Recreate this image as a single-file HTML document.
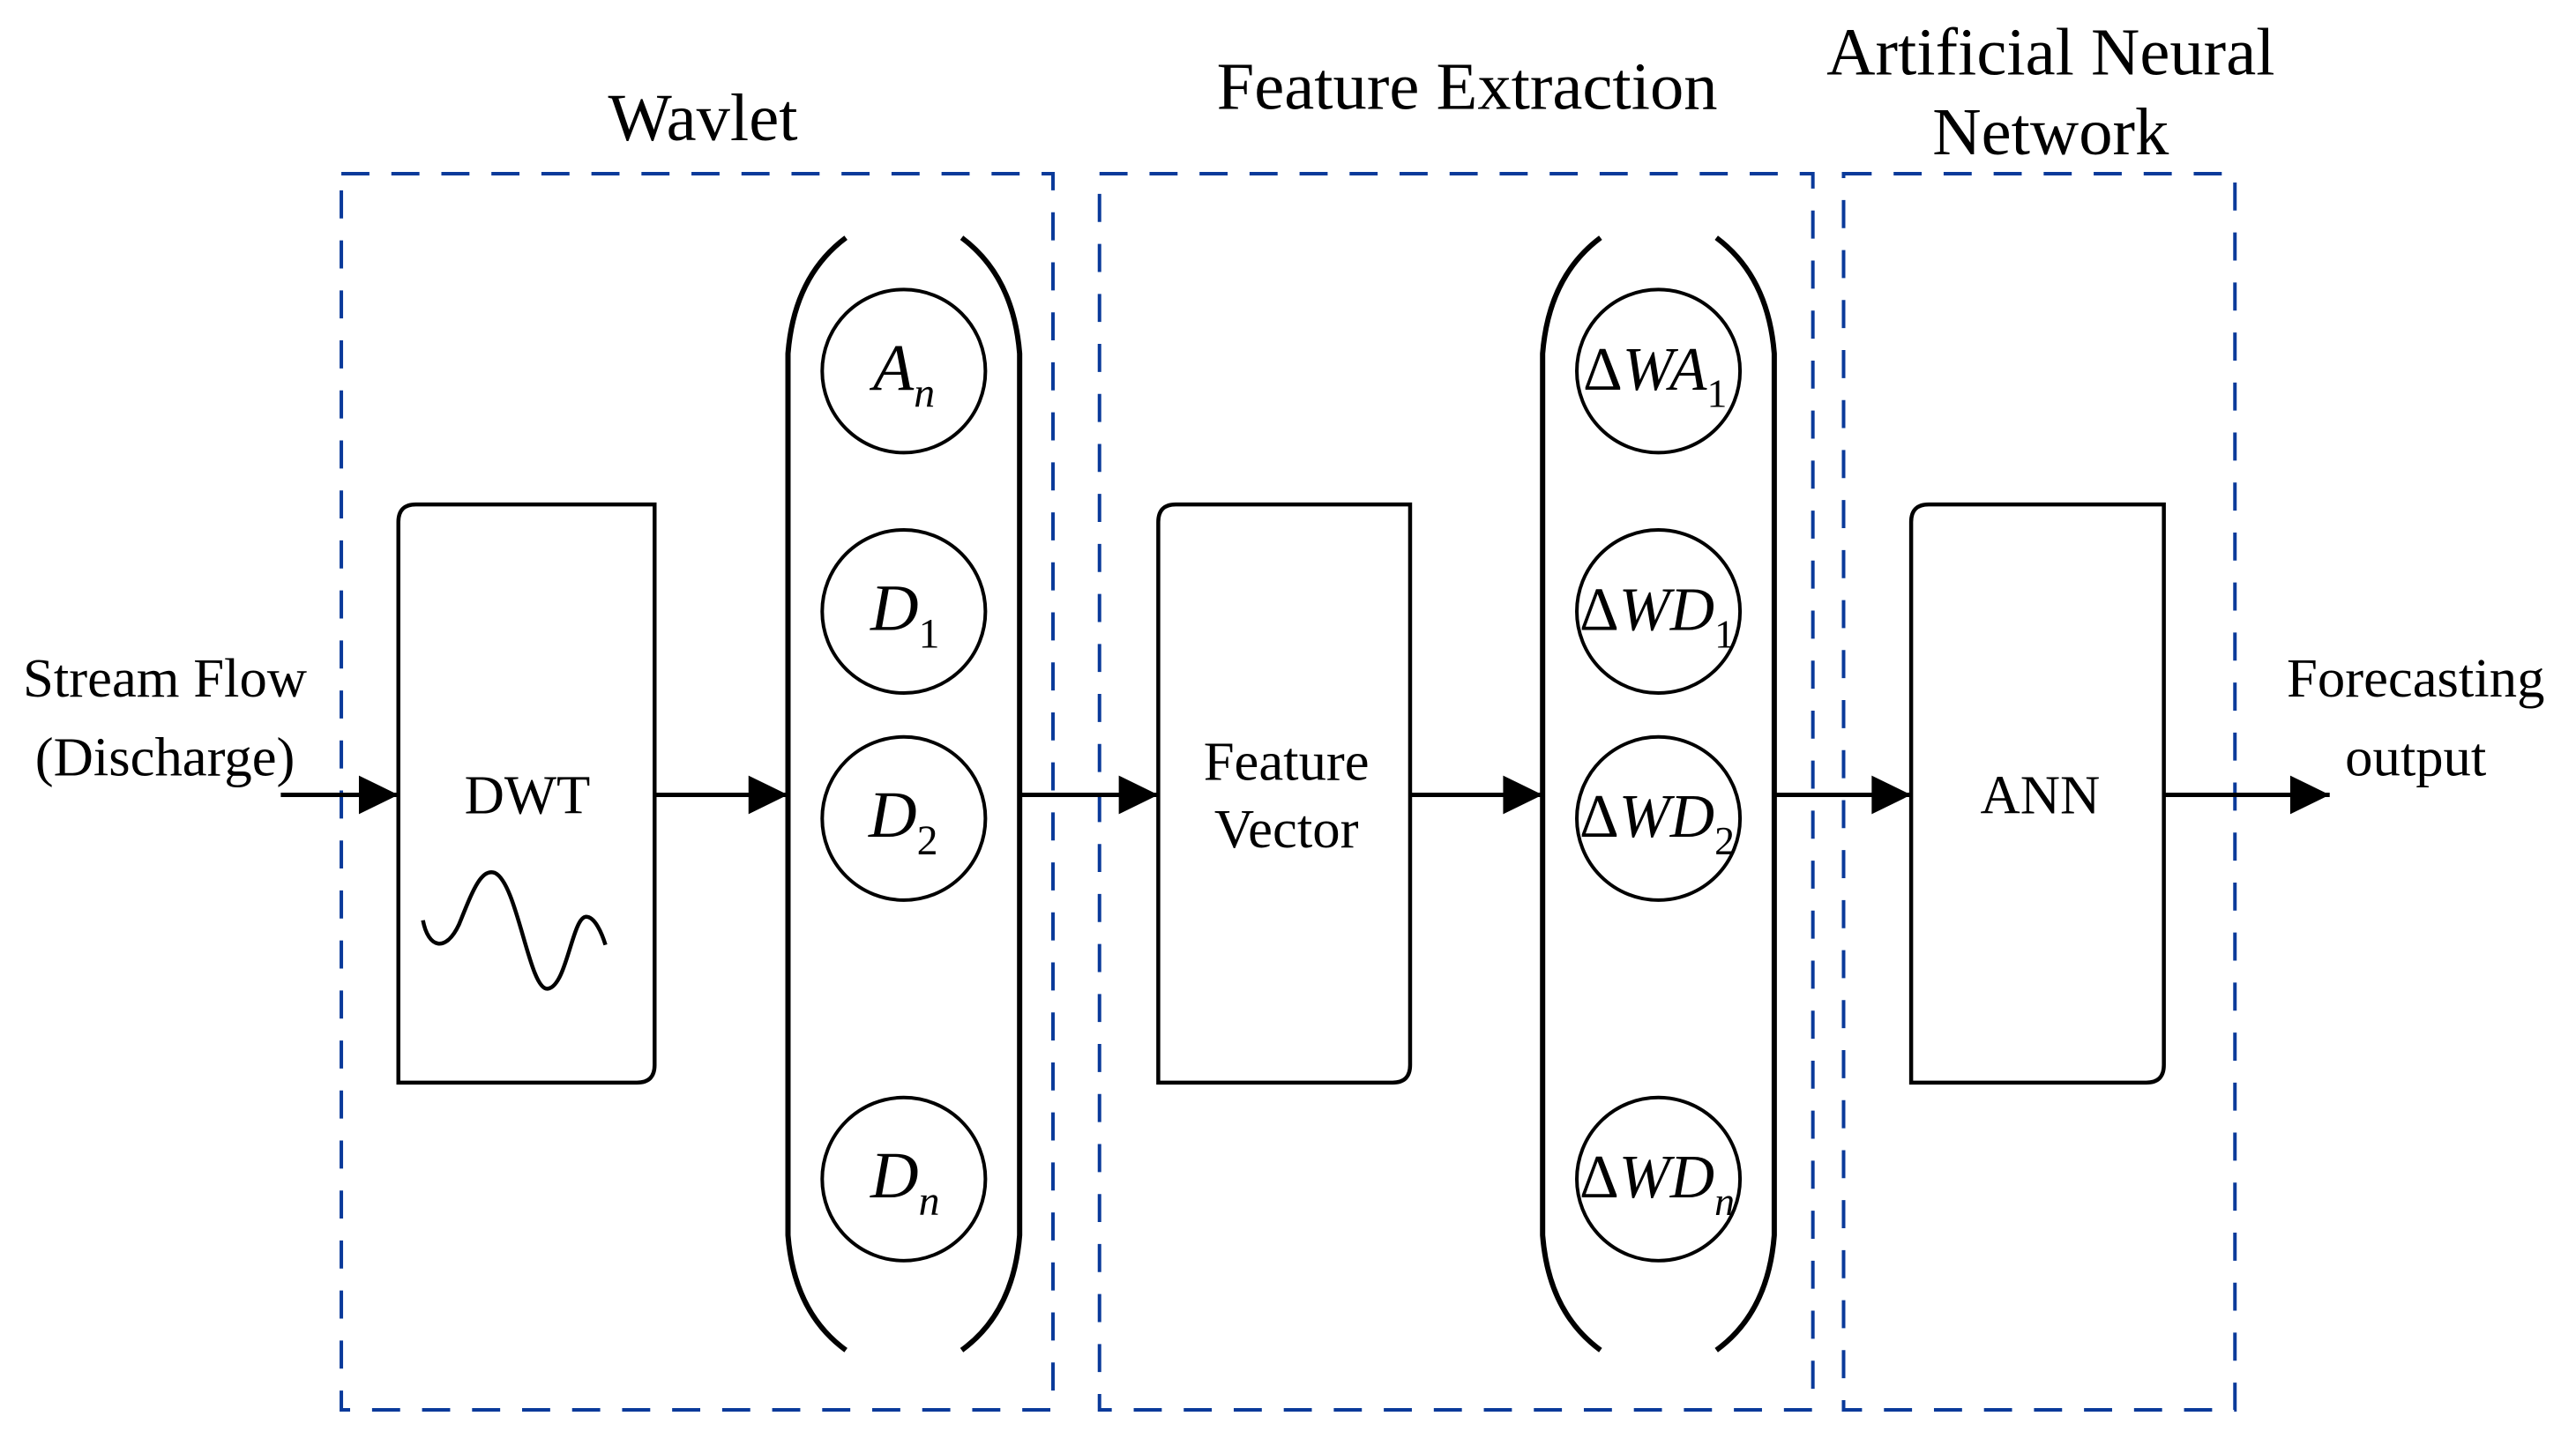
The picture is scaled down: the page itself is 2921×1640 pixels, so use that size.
<!DOCTYPE html>
<html><head><meta charset="utf-8"><style>html,body{margin:0;padding:0;background:#fff}svg{display:block}</style></head>
<body>
<svg width="2921" height="1640" viewBox="0 0 2921 1640" xmlns="http://www.w3.org/2000/svg" font-family="Liberation Serif, serif">
<defs>
<marker id="ah" markerWidth="10" markerHeight="10" refX="10" refY="5" orient="auto" markerUnits="userSpaceOnUse" viewBox="0 0 10 10" style="overflow:visible">
<path d="M-35,-17 L10,5 L-35,27 Z" fill="#000"/>
</marker>
</defs>
<g transform="scale(0.995)">
<g fill="none" stroke="#0a3a9a" stroke-width="4" stroke-dasharray="32,25">
<rect x="389" y="198" width="811" height="1409"/>
<rect x="1253" y="198" width="813" height="1409"/>
<rect x="2101" y="198" width="446" height="1409"/>
</g>
<g fill="none" stroke="#000" stroke-width="4.5">
<path d="M454,1234 V595 Q454,575 474,575 H746 V1214 Q746,1234 726,1234 Z"/>
<path d="M1320,1234 V595 Q1320,575 1340,575 H1607 V1214 Q1607,1234 1587,1234 Z"/>
<path d="M2178,1234 V595 Q2178,575 2198,575 H2466 V1214 Q2466,1234 2446,1234 Z"/>
<path d="M482,1049 C488,1081 508,1086 523,1054 C538,1017 548,989 564,995 C590,1007 603,1129 624,1127 C646,1125 652,1045 668,1045 C678,1045 686,1064 690,1077"/>
</g>
<g fill="none" stroke="#000" stroke-width="6">
<path d="M964,271 Q905,315 898,403 V1408 Q905,1496 964,1539"/>
<path d="M1096,271 Q1155,315 1162,403 V1408 Q1155,1496 1096,1539"/>
<path d="M1824,271 Q1765,315 1758,403 V1408 Q1765,1496 1824,1539"/>
<path d="M1956,271 Q2015,315 2022,403 V1408 Q2015,1496 1956,1539"/>
</g>
<g fill="none" stroke="#000" stroke-width="4">
<circle cx="1030" cy="423" r="93"/>
<circle cx="1030" cy="697" r="93"/>
<circle cx="1030" cy="933" r="93"/>
<circle cx="1030" cy="1344" r="93"/>
<circle cx="1890" cy="423" r="93"/>
<circle cx="1890" cy="697" r="93"/>
<circle cx="1890" cy="933" r="93"/>
<circle cx="1890" cy="1344" r="93"/>
</g>
<g stroke="#000" stroke-width="5" marker-end="url(#ah)">
<line x1="320" y1="906" x2="454" y2="906"/>
<line x1="746" y1="906" x2="898" y2="906"/>
<line x1="1162" y1="906" x2="1320" y2="906"/>
<line x1="1607" y1="906" x2="1758" y2="906"/>
<line x1="2022" y1="906" x2="2178" y2="906"/>
<line x1="2466" y1="906" x2="2655" y2="906"/>
</g>
<g fill="#000" text-anchor="middle" font-size="77">
<text x="801" y="160">Wavlet</text>
<text x="1672" y="124">Feature Extraction</text>
<text x="2337" y="85">Artificial Neural</text>
<text x="2337" y="176">Network</text>
</g>
<g fill="#000" text-anchor="middle" font-size="63">
<text x="188" y="794">Stream Flow</text>
<text x="188" y="884">(Discharge)</text>
<text x="2753" y="794">Forecasting</text>
<text x="2753" y="884">output</text>
<text x="601" y="927">DWT</text>
<text x="1466" y="889">Feature</text>
<text x="1466" y="966">Vector</text>
<text x="2325" y="927">ANN</text>
</g>
<g fill="#000" font-size="76" font-style="italic">
<text x="995" y="444">A<tspan font-size="48" dy="20">n</tspan></text>
<text x="992" y="718">D<tspan font-size="48" dy="20" font-style="normal">1</tspan></text>
<text x="990" y="954">D<tspan font-size="48" dy="20" font-style="normal">2</tspan></text>
<text x="992" y="1365">D<tspan font-size="48" dy="20">n</tspan></text>
</g>
<g fill="#000" font-size="70" font-style="italic">
<text x="1804" y="444"><tspan font-style="normal">Δ</tspan>WA<tspan font-size="46" dy="20" font-style="normal">1</tspan></text>
<text x="1800" y="718"><tspan font-style="normal">Δ</tspan>WD<tspan font-size="46" dy="20" font-style="normal">1</tspan></text>
<text x="1800" y="954"><tspan font-style="normal">Δ</tspan>WD<tspan font-size="46" dy="20" font-style="normal">2</tspan></text>
<text x="1800" y="1365"><tspan font-style="normal">Δ</tspan>WD<tspan font-size="46" dy="20">n</tspan></text>
</g>
</g>
</svg>
</body></html>
